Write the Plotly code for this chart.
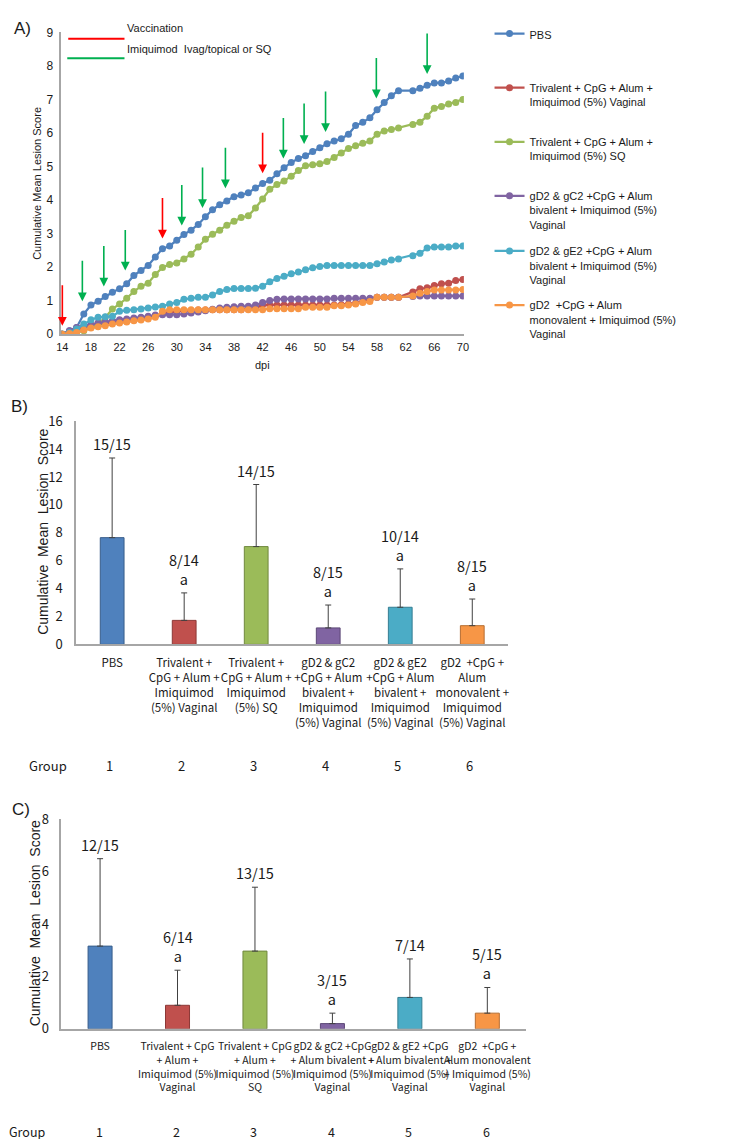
import plotly.graph_objects as go

W, H = 747, 1139


def px(x):
    return x / W


def py(y):
    return 1 - y / H


# ---------------- Panel A data ----------------
dpi = list(range(14, 62)) + list(range(63, 71))

pbs = [0, 0.1, 0.2, 0.6, 0.87, 0.98, 1.12, 1.25, 1.35, 1.5,
       1.75, 1.9, 2.05, 2.3, 2.55, 2.63, 2.8, 2.97, 3.1, 3.27,
       3.5, 3.71, 3.86, 3.97, 4.1, 4.15, 4.22, 4.36, 4.49, 4.59,
       4.78, 4.96, 5.12, 5.24, 5.32, 5.45, 5.56, 5.68, 5.76, 5.83,
       5.96, 6.22, 6.32, 6.45, 6.69, 6.91, 7.11, 7.26,
       7.26, 7.33, 7.42, 7.49, 7.49, 7.55, 7.64, 7.7]
tri_vag = [0, 0.07, 0.14, 0.2, 0.25, 0.3, 0.33, 0.36, 0.38, 0.4,
           0.42, 0.45, 0.5, 0.55, 0.6, 0.65, 0.68, 0.7, 0.7, 0.72,
           0.72, 0.73, 0.73, 0.73, 0.73, 0.73, 0.75, 0.77, 0.87, 0.87,
           0.87, 0.87, 0.87, 0.87, 0.87, 0.87, 0.87, 0.87, 0.87, 0.88,
           0.9, 0.92, 0.97, 1.05, 1.1, 1.1, 1.1, 1.1,
           1.26, 1.35, 1.38, 1.45, 1.5, 1.52, 1.6, 1.63]
tri_sq = [0, 0, 0.05, 0.1, 0.2, 0.3, 0.5, 0.75, 0.9, 1.07,
          1.27, 1.43, 1.52, 1.78, 1.99, 2.08, 2.12, 2.24, 2.38, 2.6,
          2.83, 2.98, 3.1, 3.25, 3.37, 3.48, 3.53, 3.76, 4.03, 4.32,
          4.46, 4.57, 4.71, 4.88, 5.02, 5.05, 5.08, 5.15, 5.27, 5.4,
          5.54, 5.62, 5.69, 5.76, 5.96, 6.06, 6.1, 6.15,
          6.25, 6.32, 6.5, 6.74, 6.79, 6.86, 6.91, 7.0]
biv_gc2 = [0, 0.1, 0.2, 0.25, 0.29, 0.34, 0.37, 0.4, 0.43, 0.45,
           0.48, 0.5, 0.53, 0.57, 0.58, 0.58, 0.58, 0.6, 0.63, 0.66,
           0.7, 0.74, 0.78, 0.8, 0.82, 0.83, 0.83, 0.87, 0.94, 1.0,
           1.04, 1.05, 1.05, 1.05, 1.05, 1.05, 1.05, 1.05, 1.07, 1.07,
           1.07, 1.07, 1.07, 1.07, 1.1, 1.1, 1.1, 1.1,
           1.12, 1.14, 1.14, 1.14, 1.14, 1.14, 1.14, 1.14]
biv_ge2 = [0, 0.05, 0.15, 0.3, 0.43, 0.5, 0.52, 0.53, 0.68, 0.71,
           0.73, 0.75, 0.78, 0.81, 0.83, 0.9, 0.94, 1.04, 1.07, 1.1,
           1.1, 1.17, 1.27, 1.33, 1.36, 1.36, 1.36, 1.37, 1.43, 1.56,
           1.66, 1.73, 1.8, 1.85, 1.92, 1.98, 2.02, 2.05, 2.05, 2.05,
           2.05, 2.05, 2.05, 2.05, 2.1, 2.15, 2.21, 2.24,
           2.34, 2.41, 2.57, 2.6, 2.6, 2.6, 2.63, 2.63]
mono = [0, 0.02, 0.05, 0.12, 0.18, 0.22, 0.25, 0.3, 0.33, 0.36,
        0.4, 0.42, 0.45, 0.5, 0.68, 0.73, 0.73, 0.73, 0.73, 0.73,
        0.73, 0.73, 0.73, 0.73, 0.73, 0.73, 0.73, 0.73, 0.73, 0.76,
        0.76, 0.76, 0.76, 0.76, 0.8, 0.8, 0.8, 0.8, 0.85, 0.85,
        0.87, 0.9, 0.94, 0.97, 1.1, 1.1, 1.1, 1.1,
        1.14, 1.22, 1.27, 1.32, 1.32, 1.32, 1.32, 1.33]

series_names = [
    "PBS",
    "Trivalent + CpG + Alum +<br>Imiquimod (5%) Vaginal",
    "Trivalent + CpG + Alum +<br>Imiquimod (5%) SQ",
    "gD2 &amp; gC2 +CpG + Alum<br>bivalent + Imiquimod (5%)<br>Vaginal",
    "gD2 &amp; gE2 +CpG + Alum<br>bivalent + Imiquimod (5%)<br>Vaginal",
    "gD2\u00a0 +CpG + Alum<br>monovalent + Imiquimod (5%)<br>Vaginal",
]
series_values = [pbs, tri_vag, tri_sq, biv_gc2, biv_ge2, mono]

vaccination_dpi = [14, 28, 42]
vaccination_tip = [0.25, 2.85, 4.8]
imiquimod_dpi = [16.8, 19.8, 22.8, 30.7, 33.6, 36.8, 44.9, 47.8, 50.8, 57.9, 65]
imiquimod_tip = [0.98, 1.42, 1.9, 3.24, 3.76, 4.35, 5.24, 5.67, 6.03, 7.03, 7.76]

x_ticks_a = list(range(14, 71, 4))

# ---------------- Panels B / C data ----------------
groups = [1, 2, 3, 4, 5, 6]
labels_b = [
    "PBS",
    "Trivalent +<br>CpG + Alum +<br>Imiquimod<br>(5%) Vaginal",
    "Trivalent +<br>CpG + Alum +<br>Imiquimod<br>(5%) SQ",
    "gD2 &amp; gC2<br>+CpG + Alum<br>bivalent +<br>Imiquimod<br>(5%) Vaginal",
    "gD2 &amp; gE2<br>+CpG + Alum<br>bivalent +<br>Imiquimod<br>(5%) Vaginal",
    "gD2\u00a0 +CpG +<br>Alum<br>monovalent +<br>Imiquimod<br>(5%) Vaginal",
]
mean_b = [7.65, 1.72, 7.01, 1.18, 2.66, 1.34]
sd_b = [5.71, 1.97, 4.45, 1.64, 2.75, 1.91]
frac_b = ["15/15", "8/14", "14/15", "8/15", "10/14", "8/15"]
sig_b = ["", "a", "", "a", "a", "a"]

labels_c = [
    "PBS",
    "Trivalent + CpG<br>+ Alum +<br>Imiquimod (5%)<br>Vaginal",
    "Trivalent + CpG<br>+ Alum +<br>Imiquimod (5%)<br>SQ",
    "gD2 &amp; gC2 +CpG<br>+ Alum bivalent +<br>Imiquimod (5%)<br>Vaginal",
    "gD2 &amp; gE2 +CpG<br>+ Alum bivalent +<br>Imiquimod (5%)<br>Vaginal",
    "gD2\u00a0 +CpG +<br>Alum monovalent<br>+ Imiquimod (5%)<br>Vaginal",
]
mean_c = [3.16, 0.9, 2.97, 0.2, 1.2, 0.6]
sd_c = [3.34, 1.34, 2.44, 0.4, 1.47, 0.98]
frac_c = ["12/15", "6/14", "13/15", "3/15", "7/14", "5/15"]
sig_c = ["", "a", "", "a", "", "a"]

# ---------------- styles ----------------
line_colors = ["#4F81BD", "#C0504D", "#9BBB59", "#8064A2", "#4BACC6", "#F79646"]
edge_colors = ["#385D8A", "#8C3836", "#71893F", "#5C4776", "#357D91", "#B66D31"]
ARIAL = "Liberation Sans, Arial, sans-serif"
NARROW = "Noto Sans CJK SC, Liberation Sans Narrow, sans-serif"
TXT = "#1a1a1a"
AXC = "#A6A6A6"

fig = go.Figure()

# Panel A lines
legend_tops = [2, 57, 112, 167, 223, 278]
for i, (name, vals) in enumerate(zip(series_names, series_values)):
    fig.add_trace(go.Scatter(
        x=dpi, y=vals, mode="lines+markers", name=name,
        line=dict(color=line_colors[i], width=2.25),
        marker=dict(color=line_colors[i], size=7),
        xaxis="x", yaxis="y",
        legend="legend" if i == 0 else f"legend{i + 1}",
    ))

# Panel B bars
fig.add_trace(go.Bar(
    x=list(range(6)), y=mean_b, width=0.33,
    marker=dict(color=line_colors, line=dict(color=edge_colors, width=1)),
    error_y=dict(type="data", symmetric=False, array=sd_b, arrayminus=[0] * 6,
                 color="#404040", thickness=1, width=3),
    xaxis="x2", yaxis="y2", showlegend=False,
))
# Panel C bars
fig.add_trace(go.Bar(
    x=list(range(6)), y=mean_c, width=0.31,
    marker=dict(color=line_colors, line=dict(color=edge_colors, width=1)),
    error_y=dict(type="data", symmetric=False, array=sd_c, arrayminus=[0] * 6,
                 color="#404040", thickness=1, width=3),
    xaxis="x3", yaxis="y3", showlegend=False,
))

annotations = []


def note(x, y, text, size, family=ARIAL, xref="paper", yref="paper", angle=0,
         xanchor="center", yanchor="middle", **kw):
    d = dict(x=x, y=y, xref=xref, yref=yref, text=text, showarrow=False,
             xanchor=xanchor, yanchor=yanchor, textangle=angle,
             font=dict(family=family, size=size, color=TXT))
    d.update(kw)
    annotations.append(d)


# arrows
for d, t in zip(vaccination_dpi, vaccination_tip):
    annotations.append(dict(x=d, y=t, xref="x", yref="y", text="", showarrow=True,
                            ax=0, ay=-42, arrowhead=2, arrowsize=1.1, arrowwidth=1.6,
                            arrowcolor="#FF0000"))
for d, t in zip(imiquimod_dpi, imiquimod_tip):
    annotations.append(dict(x=d, y=t, xref="x", yref="y", text="", showarrow=True,
                            ax=0, ay=-42, arrowhead=2, arrowsize=1.1, arrowwidth=1.6,
                            arrowcolor="#00B050"))

# arrow legend text
note(px(114), py(10), "Vaccination", 11, xanchor="left")
note(px(114), py(32), "Imiquimod\u00a0 Ivag/topical or SQ", 11, xanchor="left")

# panel letters
note(px(10), py(11), "A)", 17)
note(px(7), py(395), "B)", 17)
note(px(8), py(805), "C)", 17)

# axis titles
note(px(25), py(168), "Cumulative Mean Lesion Score", 11, angle=-90)
note(px(31), py(523), "Cumulative\u00a0 Mean\u00a0 Lesion\u00a0 Score", 14, angle=-90)
note(px(22), py(921), "Cumulative\u00a0 Mean\u00a0 Lesion\u00a0 Score", 14, angle=-90)
note(px(253), py(353), "dpi", 11)

# bar labels
for xr, yr, means, sds, fr, sg in [("x2", "y2", mean_b, sd_b, frac_b, sig_b),
                                   ("x3", "y3", mean_c, sd_c, frac_c, sig_c)]:
    for i in range(6):
        txt = fr[i] + ("<br>" + sg[i] if sg[i] else "")
        note(i, means[i] + sds[i], txt, 14.5, family=NARROW, xref=xr, yref=yr,
             yanchor="bottom", yshift=2)

# group rows
note(px(35), py(760), "Group", 13, family=NARROW)
note(px(14), py(1132), "Group", 12.5, family=NARROW)
for i, g in enumerate(groups):
    note(i, py(760), str(g), 13, family=NARROW, xref="x2", xshift=-3)
    note(i, py(1132), str(g), 12.5, family=NARROW, xref="x3", xshift=-1)

shapes = [
    dict(type="line", xref="paper", yref="paper", x0=px(56), x1=px(113), y0=py(21), y1=py(21),
         line=dict(color="#FF0000", width=2)),
    dict(type="line", xref="paper", yref="paper", x0=px(55), x1=px(113), y0=py(41), y1=py(41),
         line=dict(color="#00B050", width=2)),
]

axis_common = dict(showgrid=False, zeroline=False, showline=True, linecolor=AXC,
                   linewidth=1.5, ticks="", fixedrange=True)

layout = dict(
    width=W, height=H, autosize=False,
    margin=dict(l=0, r=0, t=0, b=0),
    paper_bgcolor="white", plot_bgcolor="white",
    barmode="overlay",
    xaxis=dict(domain=[px(49), px(457)], range=[14 - 1 / 7.25, 70 + 1 / 7.25],
               tickvals=x_ticks_a, anchor="y", ticklabelstandoff=2, tickangle=0,
               tickfont=dict(family=ARIAL, size=11, color=TXT), **axis_common),
    yaxis=dict(domain=[py(321.5), py(14.6)], range=[0, 9], dtick=1, anchor="x",
               ticklabelstandoff=4,
               tickfont=dict(family=ARIAL, size=12, color=TXT), **axis_common),
    xaxis2=dict(domain=[px(64), px(502)], range=[-0.5, 5.5], tickvals=list(range(6)),
                ticktext=labels_b, anchor="y2", ticklabelstandoff=7, tickangle=0,
                tickfont=dict(family=NARROW, size=11.5, color=TXT), **axis_common),
    yaxis2=dict(domain=[py(637), py(410)], range=[0, 16], dtick=2, anchor="x2",
                ticklabelstandoff=9,
                tickfont=dict(family=NARROW, size=13, color=TXT), **axis_common),
    xaxis3=dict(domain=[px(49), px(520)], range=[-0.5, 5.5], tickvals=list(range(6)),
                ticktext=labels_c, anchor="y3", ticklabelstandoff=7, tickangle=0,
                tickfont=dict(family=NARROW, size=10.5, color=TXT), **axis_common),
    yaxis3=dict(domain=[py(1028), py(815)], range=[0, 8], dtick=2, anchor="x3",
                ticklabelstandoff=8,
                tickfont=dict(family=NARROW, size=13, color=TXT), **axis_common),
    annotations=annotations,
    shapes=shapes,
)

for i, top in enumerate(legend_tops):
    key = "legend" if i == 0 else f"legend{i + 1}"
    layout[key] = dict(x=px(483), y=py(top), xanchor="left", yanchor="top",
                       bgcolor="rgba(0,0,0,0)", valign="top",
                       font=dict(family=ARIAL, size=11, color=TXT))

fig.update_layout(**layout)
fig.write_html("out.html")
